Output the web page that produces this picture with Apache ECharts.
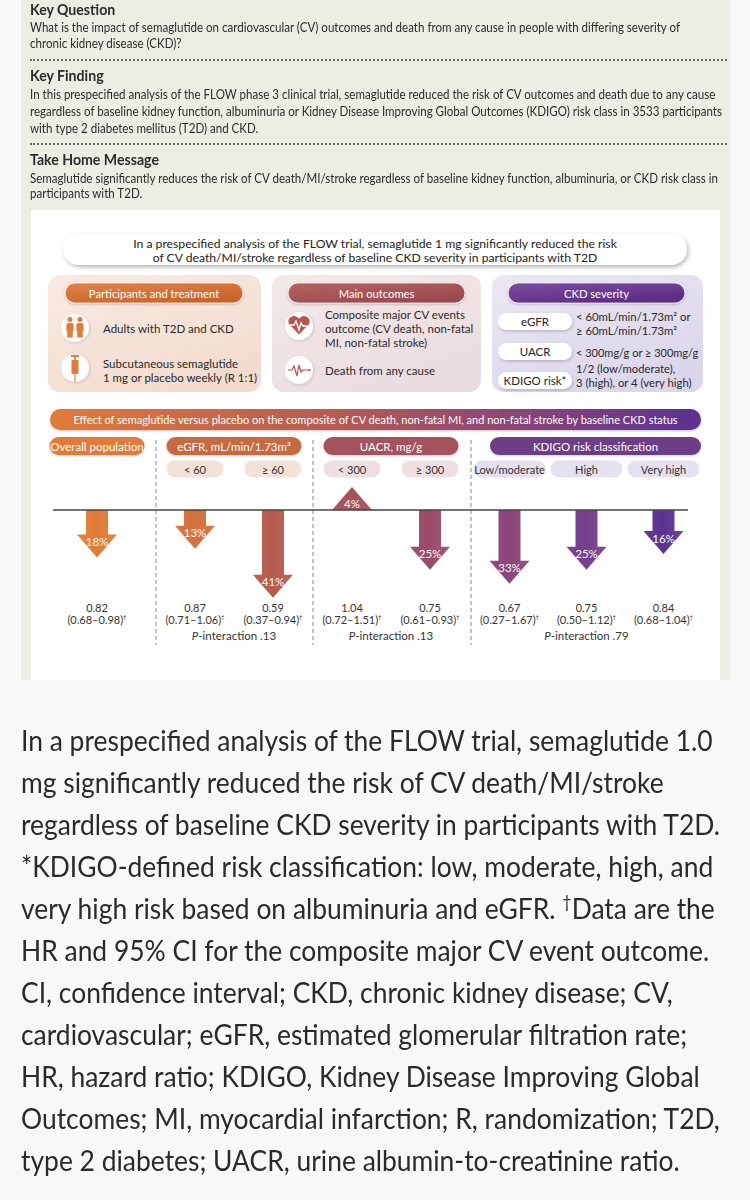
<!DOCTYPE html>
<html><head><meta charset="utf-8">
<script src="https://cdn.jsdelivr.net/npm/echarts@6/dist/echarts.min.js"></script>
<style>
html,body{margin:0;padding:0;width:750px;height:1200px;background:#f8f8f8;overflow:hidden;}
#beige{position:absolute;left:21px;top:0;width:709px;height:680px;background:#eeede3;}
#white{position:absolute;left:31px;top:210px;width:689px;height:470px;background:#fff;}
.t{position:absolute;left:30px;white-space:nowrap;font-family:Lato,sans-serif;color:#2b2b2b;transform-origin:0 50%;height:18px;line-height:18px;}
.h{font-weight:bold;font-size:15px;}
.b{font-size:14px;}
.dot{position:absolute;left:30px;width:697px;height:0;border-top:2px dotted #666;}
.cap{position:absolute;left:21px;white-space:nowrap;font-family:Lato,sans-serif;font-size:28px;color:#2a2a2a;transform-origin:0 50%;height:40px;line-height:40px;}
#chart{position:absolute;left:0;top:0;width:750px;height:1200px;}
</style></head>
<body>
<div id="beige"></div>
<div id="white"></div>
<div id="txt"></div>
<div id="chart"></div>
<script>
// ---------- DATA ----------
const groupNames = ['Overall population', 'eGFR, mL/min/1.73m²', 'UACR, mg/g', 'KDIGO risk classification'];
const subgroupNames = ['', '< 60', '≥ 60', '< 300', '≥ 300', 'Low/moderate', 'High', 'Very high'];
const subgroupOf = [0, 1, 1, 2, 2, 3, 3, 3];
const riskChange = [-18, -13, -41, 4, -25, -33, -25, -16];
const hazardRatio = [0.82, 0.87, 0.59, 1.04, 0.75, 0.67, 0.75, 0.84];
const ciLower = [0.68, 0.71, 0.37, 0.72, 0.61, 0.27, 0.50, 0.68];
const ciUpper = [0.98, 1.06, 0.94, 1.51, 0.93, 1.67, 1.12, 1.04];
const pInteraction = ['', '.13', '.13', '.79'];

const topLines = [
  ['Key Question', 'h'],
  ['What is the impact of semaglutide on cardiovascular (CV) outcomes and death from any cause in people with differing severity of', 'b'],
  ['chronic kidney disease (CKD)?', 'b'],
  ['Key Finding', 'h'],
  ['In this prespecified analysis of the FLOW phase 3 clinical trial, semaglutide reduced the risk of CV outcomes and death due to any cause', 'b'],
  ['regardless of baseline kidney function, albuminuria or Kidney Disease Improving Global Outcomes (KDIGO) risk class in 3533 participants', 'b'],
  ['with type 2 diabetes mellitus (T2D) and CKD.', 'b'],
  ['Take Home Message', 'h'],
  ['Semaglutide significantly reduces the risk of CV death/MI/stroke regardless of baseline kidney function, albuminuria, or CKD risk class in', 'b'],
  ['participants with T2D.', 'b']
];
const captionLines = [
  'In a prespecified analysis of the FLOW trial, semaglutide 1.0',
  'mg significantly reduced the risk of CV death/MI/stroke',
  'regardless of baseline CKD severity in participants with T2D.',
  '*KDIGO-defined risk classification: low, moderate, high, and',
  'very high risk based on albuminuria and eGFR. <span style="font-size:17px;position:relative;top:-11px">†</span>Data are the',
  'HR and 95% CI for the composite major CV event outcome.',
  'CI, confidence interval; CKD, chronic kidney disease; CV,',
  'cardiovascular; eGFR, estimated glomerular filtration rate;',
  'HR, hazard ratio; KDIGO, Kidney Disease Improving Global',
  'Outcomes; MI, myocardial infarction; R, randomization; T2D,',
  'type 2 diabetes; UACR, urine albumin-to-creatinine ratio.'
];

// ---------- LAYOUT / STYLE ----------
const topLineY = [9, 27, 43, 75, 94, 111, 128, 159, 178, 193];
const dotY = [59, 143];
const FONT = 'Lato';
const groupColors = ['#e07b39', '#c86a40', '#a4535b', '#6d3c86'];
const pillColors = ['transparent', '#f3e2d8', '#efdfe1', '#e6e1ee'];
const arrowColors = ['#e07b36', '#d3703b', '#b55b4d', '#a55259', '#9b4b69', '#8a4679', '#743f8b', '#5d3391'];
const gridLayout = [{left: 40, width: 114}, {left: 156, width: 156}, {left: 313, width: 156}, {left: 471, width: 231}];
const subPillWidth = [0, 57, 57, 72];
const groupPillWidth = [95, 135, 135, 211];
const groupPillShift = [0, 0, 0, 18];

// ---------- HTML text ----------
const txt = document.getElementById('txt');
topLines.forEach((l, i) => {
  const d = document.createElement('div');
  d.className = 't ' + l[1];
  d.style.top = (topLineY[i] - 9) + 'px';
  d.textContent = l[0];
  txt.appendChild(d);
});
dotY.forEach(y => { const d = document.createElement('div'); d.className = 'dot'; d.style.top = y + 'px'; txt.appendChild(d); });
captionLines.forEach((l, i) => {
  const d = document.createElement('div');
  d.className = 'cap';
  d.style.top = (740 + 42 * i - 20) + 'px';
  d.innerHTML = l;
  txt.appendChild(d);
});
function fit(els, target) {
  let max = 0;
  els.forEach(e => { max = Math.max(max, e.getBoundingClientRect().width); });
  const s = Math.max(0.6, Math.min(1.3, target / max));
  els.forEach(e => { e.style.transform = 'scaleX(' + s + ')'; });
}
fit([...document.querySelectorAll('.t.b')], 692);
fit([...document.querySelectorAll('.t.h')], 129);
fit([...document.querySelectorAll('.cap')], 699);

// ---------- CHART ----------
const chart = echarts.init(document.getElementById('chart'), null, {renderer: 'svg', width: 750, height: 1200});
const groupMembers = groupNames.map((_, g) => subgroupNames.map((_, i) => i).filter(i => subgroupOf[i] === g));

function renderArrow(params, api) {
  const k = api.value(0), v = api.value(1), gi = api.value(2);
  const base = api.coord([k, 0]);
  const end = api.coord([k, v]);
  const cx = base[0];
  const dir = v < 0 ? 1 : -1;
  const sw = 11, hw = 20, headH = 23, over = 16;
  const tipY = end[1] + dir * over;
  const baseY = tipY - dir * headH;
  const pts = [[cx - sw, base[1]], [cx + sw, base[1]], [cx + sw, baseY], [cx + hw, baseY], [cx, tipY], [cx - hw, baseY], [cx - sw, baseY]];
  const c = arrowColors[gi];
  return {type: 'group', children: [
    {type: 'polygon', shape: {points: pts}, style: {fill: new echarts.graphic.LinearGradient(0, 0, 1, 0, [{offset: 0, color: echarts.color.lift(c, -0.06)}, {offset: 0.5, color: c}, {offset: 1, color: echarts.color.lift(c, 0.08)}])}},
    {type: 'text', style: {text: Math.abs(v) + '%', x: cx, y: baseY + dir * 7, align: 'center', verticalAlign: 'middle', fill: '#fff', font: '11.5px ' + FONT}}
  ]};
}

const grid = [], xAxis = [], yAxis = [], series = [];
groupMembers.forEach((members, g) => {
  grid.push({left: gridLayout[g].left, width: gridLayout[g].width, top: 492.5, height: 105});
  const cats = members.map(i => subgroupNames[i]);
  xAxis.push({
    type: 'category', gridIndex: g, position: 'top', data: cats,
    axisLine: {show: false, onZero: false}, axisTick: {show: false}, splitLine: {show: false},
    axisLabel: {show: g > 0, interval: 0, margin: 18,
      formatter: v => '{p|' + v + '}',
      rich: {p: {fontFamily: FONT, fontSize: 11, color: '#333', lineHeight: 11, backgroundColor: pillColors[g], borderRadius: 9,
        padding: [3, 0, 3, 0], width: subPillWidth[g], align: 'center'}}},
    name: '{s|}{n|' + groupNames[g] + '}', nameLocation: 'middle', nameGap: 41,
    nameTextStyle: {rich: {
      s: {width: groupPillShift[g], lineHeight: 11},
      n: {color: '#fff', fontFamily: FONT, fontSize: 11.5, lineHeight: 11, backgroundColor: groupColors[g], borderRadius: 9,
        padding: [3, 0, 3, 0], width: groupPillWidth[g], align: 'center',
        shadowColor: 'rgba(0,0,0,0.2)', shadowBlur: 2, shadowOffsetY: 1}}}
  });
  xAxis.push({
    type: 'category', gridIndex: g, position: 'bottom', data: cats,
    axisLine: {show: false, onZero: false}, axisTick: {show: false}, splitLine: {show: false},
    axisLabel: {interval: 0, margin: 4, fontFamily: FONT, color: '#333',
      formatter: (val, k) => {
        const i = members[k];
        return '{hr|' + hazardRatio[i].toFixed(2) + '}\n{ci|(' + ciLower[i].toFixed(2) + '–' + ciUpper[i].toFixed(2) + ')}{sup|†}';
      },
      rich: {
        hr: {fontSize: 11, lineHeight: 12, color: '#333', fontFamily: FONT},
        ci: {fontSize: 11, lineHeight: 12, color: '#333', fontFamily: FONT},
        sup: {fontSize: 6, lineHeight: 12, color: '#333', verticalAlign: 'top', fontFamily: FONT}
      }},
    name: pInteraction[g] ? '{i|P}-interaction ' + pInteraction[g] : '',
    nameLocation: 'middle', nameGap: 32,
    nameTextStyle: {fontSize: 11.5, color: '#333', fontFamily: FONT,
      rich: {i: {fontStyle: 'italic', fontSize: 11.5, color: '#333', fontFamily: FONT}}}
  });
  yAxis.push({type: 'value', gridIndex: g, min: -50, max: 10, show: false});
  series.push({type: 'custom', xAxisIndex: 2 * g, yAxisIndex: g, renderItem: renderArrow, z: 3,
    data: members.map((i, k) => [k, riskChange[i], i])});
});

// ---------- graphic decorations ----------
const G = [];
function rect(x, y, w, h, r, fill, extra) { G.push({type: 'rect', shape: {x, y, width: w, height: h, r}, style: Object.assign({fill}, extra || {})}); }
function text(t, x, y, size, color, align, weight) {
  G.push({type: 'text', z: 5, style: {text: t, x, y, fill: color, font: (weight || 'normal') + ' ' + size + 'px ' + FONT,
    align: align || 'left', verticalAlign: 'middle'}});
}
function lg(c0, c1, horiz) { return new echarts.graphic.LinearGradient(0, 0, horiz ? 1 : 0.6, horiz ? 0 : 1, [{offset: 0, color: c0}, {offset: 1, color: c1}]); }

// header pill
rect(63, 233, 624, 32, 16, '#fff', {shadowBlur: 4, shadowOffsetX: 1.5, shadowOffsetY: 2, shadowColor: 'rgba(0,0,0,0.3)'});
text('In a prespecified analysis of the FLOW trial, semaglutide 1 mg significantly reduced the risk', 375, 243, 12.2, '#222', 'center');
text('of CV death/MI/stroke regardless of baseline CKD severity in participants with T2D', 375, 257, 12.2, '#222', 'center');

// panels
rect(48, 275, 213, 117, 12, lg('#f9ebe2', '#f3dccf'));
rect(272, 275, 209, 117, 12, lg('#f4e9e6', '#eadde1'));
rect(492, 275, 211, 117, 12, lg('#ece8f2', '#dcd6eb'));
const pillStroke = {stroke: 'rgba(255,255,255,0.7)', lineWidth: 1.2, shadowBlur: 2, shadowOffsetY: 1, shadowColor: 'rgba(0,0,0,0.25)'};
rect(65, 283, 178, 20, 10, lg('#df8448', '#c9642a'), pillStroke);
rect(288, 283, 177, 20, 10, lg('#b4635f', '#9a4a50'), pillStroke);
rect(508, 283, 177, 20, 10, lg('#7d4ba3', '#5c2d82'), pillStroke);
text('Participants and treatment', 154, 293.5, 11.2, '#fff', 'center');
text('Main outcomes', 376.5, 293.5, 11.2, '#fff', 'center');
text('CKD severity', 596.5, 293.5, 11.2, '#fff', 'center');

// icon circles
const circShadow = {shadowBlur: 3, shadowOffsetX: 1, shadowOffsetY: 1, shadowColor: 'rgba(0,0,0,0.15)'};
[[75, 328], [75, 368], [299, 326], [299, 370]].forEach(p => G.push({type: 'circle', shape: {cx: p[0], cy: p[1], r: 14}, style: Object.assign({fill: '#fff'}, circShadow)}));
// people icon
[70, 80].forEach(cx => {
  G.push({type: 'circle', shape: {cx, cy: 319.5, r: 2.6}, style: {fill: '#e07b39'}, z: 4});
  G.push({type: 'rect', shape: {x: cx - 3.6, y: 323, width: 7.2, height: 8, r: [2, 2, 0, 0]}, style: {fill: '#e07b39'}, z: 4});
  G.push({type: 'rect', shape: {x: cx - 2.8, y: 330.5, width: 5.6, height: 7}, style: {fill: '#e07b39'}, z: 4});
});
// syringe icon
G.push({type: 'rect', shape: {x: 71, y: 355, width: 8, height: 2}, style: {fill: '#e07b39'}, z: 4});
G.push({type: 'rect', shape: {x: 74.2, y: 356.5, width: 1.6, height: 4}, style: {fill: '#e07b39'}, z: 4});
G.push({type: 'rect', shape: {x: 71.5, y: 360, width: 7, height: 14, r: 1}, style: {fill: '#e07b39'}, z: 4});
G.push({type: 'rect', shape: {x: 74.4, y: 374, width: 1.2, height: 8}, style: {fill: '#e07b39'}, z: 4});
// heart icon (two lobes + point)
G.push({type: 'circle', z: 4, shape: {cx: 294, cy: 321.5, r: 5.6}, style: {fill: '#b85450'}});
G.push({type: 'circle', z: 4, shape: {cx: 304, cy: 321.5, r: 5.6}, style: {fill: '#b85450'}});
G.push({type: 'polygon', z: 4, shape: {points: [[288.6, 323.5], [299, 334.5], [309.4, 323.5], [299, 320]]}, style: {fill: '#b85450'}});
G.push({type: 'polyline', z: 5, shape: {points: [[289, 325], [294, 325], [296, 321], [299, 330], [301, 323], [303, 326], [309, 326]]}, style: {stroke: '#fff', lineWidth: 1.4, fill: null}});
// ECG icon
G.push({type: 'polyline', z: 4, shape: {points: [[288, 370], [292, 370], [294, 366], [297, 376], [299, 365], [301, 372], [303, 370], [309, 370]]}, style: {stroke: '#b85450', lineWidth: 1.2, fill: null}});
G.push({type: 'circle', z: 4, shape: {cx: 309.5, cy: 370, r: 1.1}, style: {fill: '#b85450'}});

// panel texts
text('Adults with T2D and CKD', 103, 328.5, 11.5, '#2a2a2a');
text('Subcutaneous semaglutide', 103, 363, 11.5, '#2a2a2a');
text('1 mg or placebo weekly (R 1:1)', 103, 377, 11.5, '#2a2a2a');
text('Composite major CV events', 325, 314, 11.5, '#2a2a2a');
text('outcome (CV death, non-fatal', 325, 328, 11.5, '#2a2a2a');
text('MI, non-fatal stroke)', 325, 342, 11.5, '#2a2a2a');
text('Death from any cause', 325, 370.5, 11.5, '#2a2a2a');
const wp = {shadowBlur: 3, shadowOffsetX: 1, shadowOffsetY: 1.5, shadowColor: 'rgba(0,0,0,0.2)'};
rect(498, 313, 74, 17, 8.5, '#fff', wp);
rect(498, 343, 74, 17, 8.5, '#fff', wp);
rect(498, 372, 74, 17, 8.5, '#fff', wp);
text('eGFR', 535, 321.5, 11.5, '#222', 'center');
text('UACR', 535, 351.5, 11.5, '#222', 'center');
text('KDIGO risk*', 535, 380.5, 11.5, '#222', 'center');
text('< 60mL/min/1.73m² or', 576, 316, 11.3, '#2a2a2a');
text('≥ 60mL/min/1.73m²', 576, 330, 11.3, '#2a2a2a');
text('< 300mg/g or ≥ 300mg/g', 576, 352, 11, '#2a2a2a');
text('1/2 (low/moderate),', 576, 368, 11.3, '#2a2a2a');
text('3 (high), or 4 (very high)', 576, 382, 11.3, '#2a2a2a');

// banner
G.push({type: 'rect', shape: {x: 50, y: 409, width: 651, height: 21, r: 10.5},
  style: {fill: new echarts.graphic.LinearGradient(0, 0, 1, 0, [{offset: 0, color: '#e07b39'}, {offset: 0.45, color: '#b45a55'}, {offset: 0.72, color: '#8a4576'}, {offset: 1, color: '#5a3194'}]),
    shadowBlur: 2, shadowOffsetY: 1, shadowColor: 'rgba(0,0,0,0.25)'}});
text('Effect of semaglutide versus placebo on the composite of CV death, non-fatal MI, and non-fatal stroke by baseline CKD status', 375.5, 419.5, 11, '#fff', 'center');

// dashed separators and baseline
[156, 313, 471].forEach(x => G.push({type: 'line', shape: {x1: x, y1: 440, x2: x, y2: 645}, style: {stroke: '#9a9a9a', lineWidth: 1.2, lineDash: [4, 3]}}));
G.push({type: 'line', z: 10, shape: {x1: 53, y1: 510, x2: 688, y2: 510}, style: {stroke: '#444', lineWidth: 1.5}});

chart.setOption({
  animation: false,
  backgroundColor: 'transparent',
  textStyle: {fontFamily: FONT},
  grid, xAxis, yAxis, series,
  graphic: {elements: G}
});
</script>
</body></html>
